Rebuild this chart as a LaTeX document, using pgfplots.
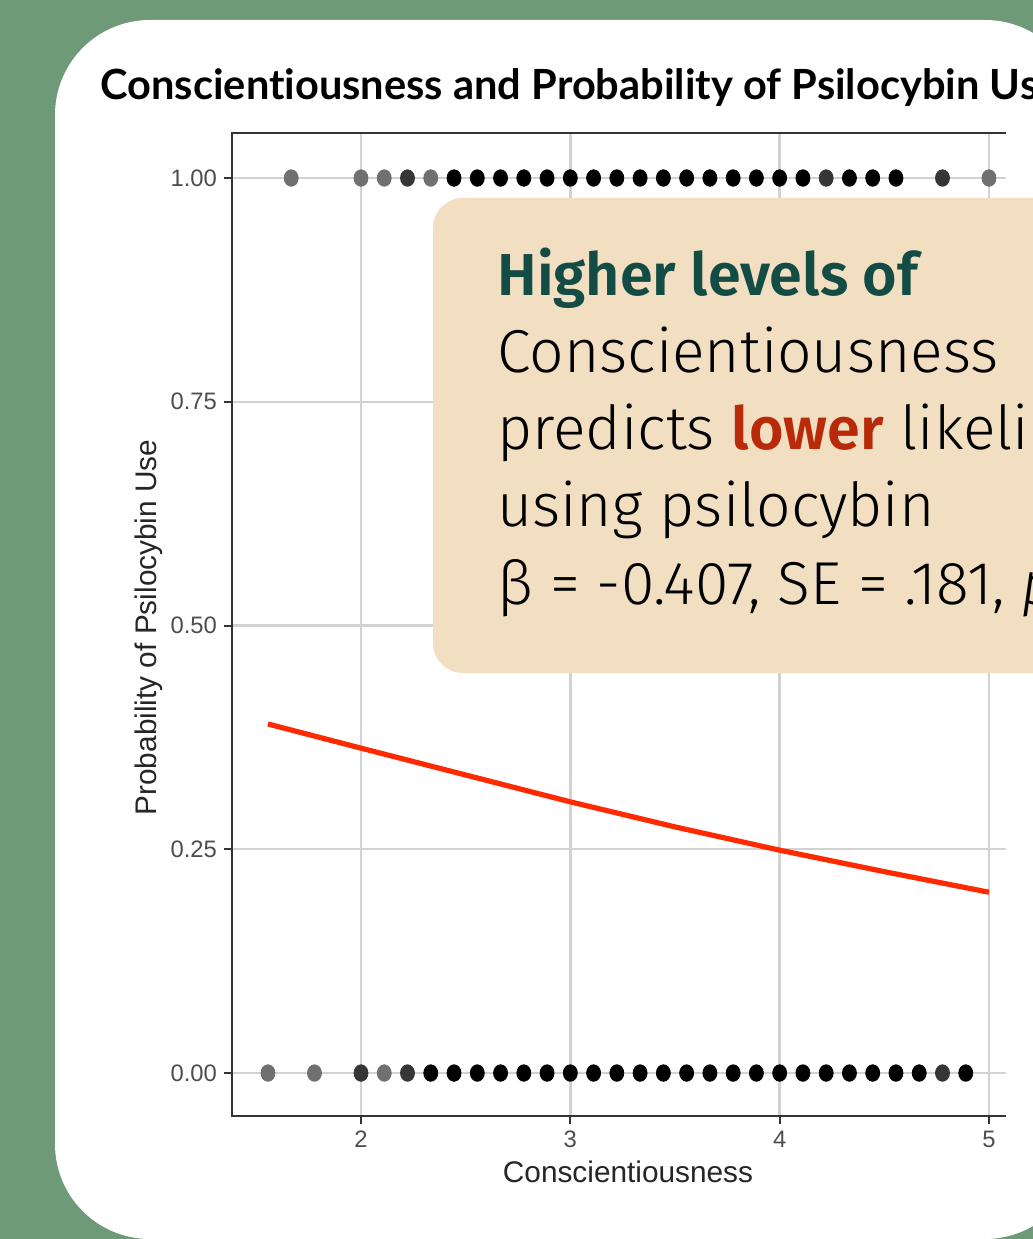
\documentclass[border=0pt]{standalone}
\usepackage{fontspec}
\usepackage{pgfplots}
\pgfplotsset{compat=1.18}
\setmainfont{Liberation Sans}
\newfontfamily\firasans[BoldFont={Fira Sans SemiBold}, ItalicFont={Fira Sans Light Italic}]{Fira Sans Light}
\newfontfamily\titlefont[Ligatures=NoCommon]{Lato}
\definecolor{bggreen}{HTML}{6E9A78}
\definecolor{boxbeige}{HTML}{F2DFC2}
\definecolor{teal}{HTML}{134B45}
\definecolor{lowred}{HTML}{B82A0A}
\definecolor{fitred}{HTML}{FF2A00}
\definecolor{gridgray}{HTML}{D2D2D2}
\definecolor{axisgray}{HTML}{333333}
\definecolor{ticklab}{HTML}{4D4D4D}
\definecolor{cA}{HTML}{707070}
\definecolor{cB}{HTML}{363636}
\definecolor{cC}{HTML}{000000}
\begin{document}
\begin{tikzpicture}[x=0.5pt,y=0.5pt]
\useasboundingbox (0,0) rectangle (1033,1239);
\clip (0,0) rectangle (1033,1239);
\fill[bggreen] (0,0) rectangle (1033,1239);
\fill[white, rounded corners=47.5pt] (55,0) rectangle (1080,1219);
\node[anchor=base west, inner sep=0pt, font=\titlefont\bfseries\fontsize{20.8}{21}\selectfont] at (100,1139) {Conscientiousness and Probability of Psilocybin Use};
\begin{axis}[
  at={(116pt,61.5pt)}, anchor=south west,
  scale only axis, width=387pt, height=491.5pt,
  xmin=1.3838, xmax=5.0812, ymin=-0.0480, ymax=1.0503,
  xtick={2,3,4,5}, ytick={0,0.25,0.5,0.75,1},
  yticklabel style={/pgf/number format/.cd, fixed, fixed zerofill, precision=2},
  /pgf/number format/assume math mode=true,
  grid=major, major grid style={line width=1.2pt, color=gridgray},
  tick align=outside, tick pos=left, major tick length=4pt,
  tick style={line width=1pt, color=axisgray},
  axis line style={draw=none},
  ticklabel style={font=\fontsize{11.9}{12}\selectfont, color=ticklab},
  clip=false,
]
% single observations
\addplot[only marks, mark=*, mark size=3.5pt, color=cA, mark options={yscale=1.18}] coordinates {
 (1.6667,1) (2.0000,1) (2.1111,1) (2.3333,1) (5.0000,1)
 (1.5556,0) (1.7778,0) (2.1111,0)
};
% two observations
\addplot[only marks, mark=*, mark size=3.5pt, color=cB, mark options={yscale=1.18}] coordinates {
 (2.2222,1) (4.2222,1) (4.7778,1)
 (2.0000,0) (2.2222,0) (4.7778,0)
};
% many observations
\addplot[only marks, mark=*, mark size=3.5pt, color=cC, mark options={yscale=1.18}] coordinates {
 (2.4444,1) (2.5556,1) (2.6667,1) (2.7778,1) (2.8889,1) (3.0000,1) (3.1111,1) (3.2222,1)
 (3.3333,1) (3.4444,1) (3.5556,1) (3.6667,1) (3.7778,1) (3.8889,1) (4.0000,1) (4.1111,1)
 (4.3333,1) (4.4444,1) (4.5556,1)
 (2.3333,0) (2.4444,0) (2.5556,0) (2.6667,0) (2.7778,0) (2.8889,0) (3.0000,0) (3.1111,0)
 (3.2222,0) (3.3333,0) (3.4444,0) (3.5556,0) (3.6667,0) (3.7778,0) (3.8889,0) (4.0000,0)
 (4.1111,0) (4.2222,0) (4.3333,0) (4.4444,0) (4.5556,0) (4.6667,0) (4.8889,0)
};
% fitted curve
\addplot[color=fitred, line width=2.6pt] coordinates {
 (1.5556,0.390) (2.0,0.363) (2.5,0.333) (3.0,0.303) (3.5,0.275) (4.0,0.249) (4.5,0.225) (5.0,0.202)
};
\draw[axisgray, line width=1pt] (rel axis cs:1,1) -- (rel axis cs:0,1) -- (rel axis cs:0,0) -- (rel axis cs:1,0);
\end{axis}
\node[anchor=base, inner sep=0pt, font=\fontsize{14.9}{15}\selectfont, color=black!85] at (628,56) {Conscientiousness};
\node[anchor=base, rotate=90, inner sep=0pt, font=\fontsize{14.9}{15}\selectfont, color=black!85] at (156,611.5) {Probability of Psilocybin Use};
\fill[boxbeige, rounded corners=15pt] (433,566) rectangle (1120,1041);
\begin{scope}[every node/.style={anchor=base west, inner sep=0pt, font=\firasans\fontsize{30.3}{36}\selectfont}]
\node at (497,943) {\color{teal}\bfseries\fontsize{29.6}{36}\selectfont Higher levels of};
\node at (497,866) {Conscientiousness};
\node at (497,789) {predicts {\color{lowred}\bfseries\fontsize{29.6}{36}\selectfont lower} likelihood of};
\node at (497,712) {using psilocybin};
\node at (497,634) {β = -0.407, SE = .181, {\itshape p} = .025};
\end{scope}
\end{tikzpicture}
\end{document}
